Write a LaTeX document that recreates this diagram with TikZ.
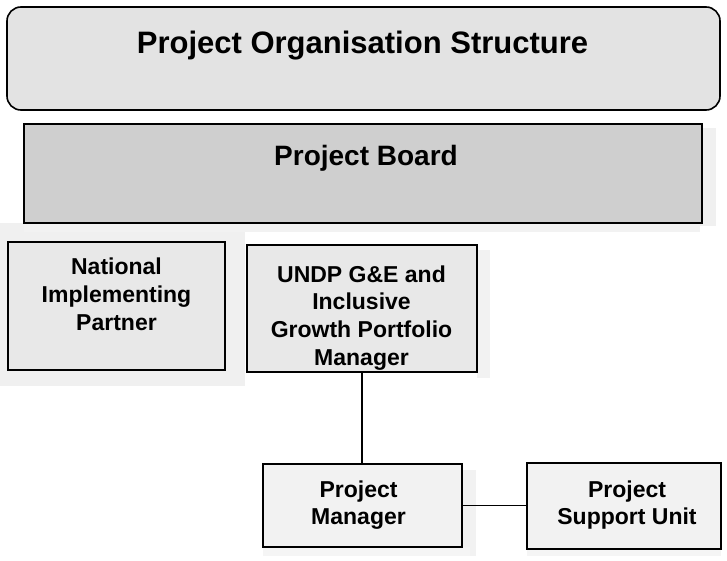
\documentclass[tikz,border=0pt]{standalone}
\usepackage{fontspec}
\setmainfont{Liberation Sans}
\begin{document}
\begin{tikzpicture}[x=1pt,y=-1pt,
  box/.style={draw=black, line width=1.6pt, inner sep=0pt, outer sep=0pt},
  lbl/.style={font=\fontsize{23}{27.8}\selectfont\bfseries, align=center, inner sep=0pt},
  link/.style={draw=black, line width=1.5pt}]
\useasboundingbox (0,0) rectangle (727,561);
\fill[white] (0,0) rectangle (727,561);
% faint scan halos
\fill[gray!12] (0,223) rectangle (245,386);
\fill[gray!12] (700,128) rectangle (716,226);
\fill[gray!10] (24,223) rectangle (700,232);
\fill[gray!10] (462,470) rectangle (476,556);
\fill[gray!8] (263,547) rectangle (470,556);
\fill[gray!8] (527,549) rectangle (721,556);
\fill[gray!10] (477,250) rectangle (490,378);
% boxes
\node[box, rounded corners=14pt, fill=gray!22, minimum width=713pt, minimum height=103pt] (title) at (363.5,58.5) {};
\node[box, fill=gray!38, minimum width=678pt, minimum height=99pt] (board) at (363,173.5) {};
\node[box, fill=gray!18, minimum width=217pt, minimum height=128pt] (nip) at (116.5,306) {};
\node[box, fill=gray!18, minimum width=230pt, minimum height=127pt] (undp) at (362,308.5) {};
\node[box, fill=gray!10, minimum width=199pt, minimum height=83pt] (pm) at (362.5,505.5) {};
\node[box, fill=gray!10, minimum width=194pt, minimum height=86pt] (psu) at (624,506) {};
% texts
\node[font=\fontsize{31}{36}\selectfont\bfseries, inner sep=0pt, anchor=base] (ttitle) at (362.5,54) {Project Organisation Structure};
\node[font=\fontsize{28}{32}\selectfont\bfseries, inner sep=0pt, anchor=base] (tboard) at (366,166) {Project Board};
\node[lbl] (tnip) at (116.5,294) {National\\Implementing\\Partner};
\node[lbl] (tundp) at (361.5,318) {UNDP G\&E and\\Inclusive\\Growth Portfolio\\Manager};
\node[lbl] (tpm) at (358.5,505) {Project\\Manager};
\node[lbl] (tpsu) at (627,505) {Project\\Support Unit};
% connectors
\draw[link] (undp.south) -- (undp.south |- pm.north);
\draw[link] (pm.east) -- (pm.east -| psu.west);
\end{tikzpicture}
\end{document}
